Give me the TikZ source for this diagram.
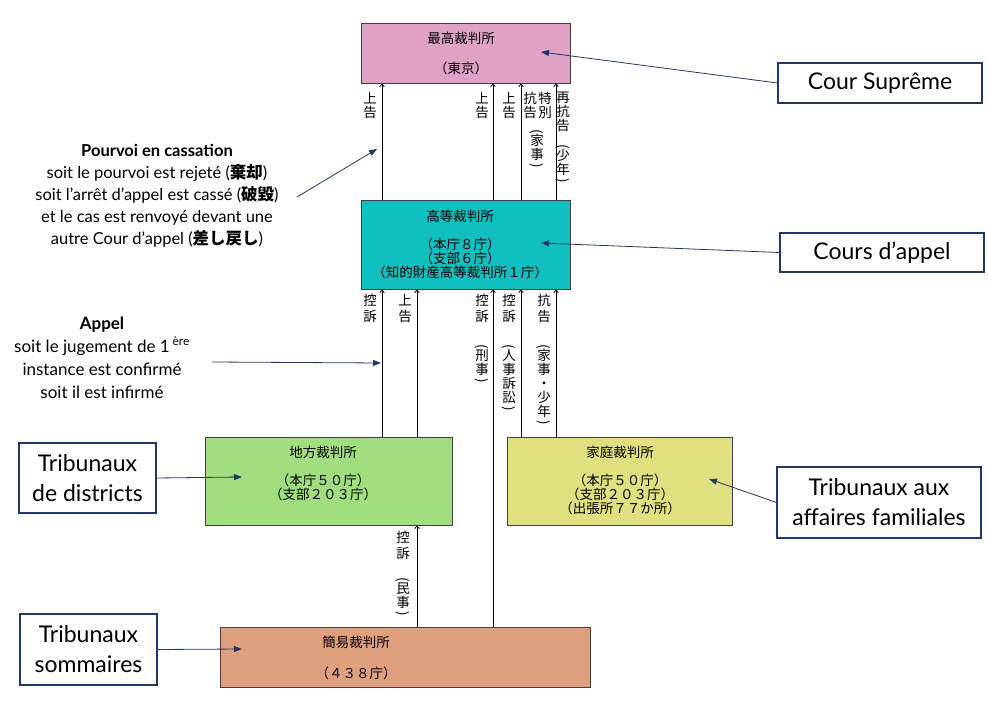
\documentclass[tikz,border=0pt]{standalone}
\usepackage{fontspec}
\usepackage{graphicx}
\setmainfont{Lato}
\newfontfamily\jp{Noto Sans CJK JP}
\usetikzlibrary{arrows.meta}
\definecolor{supc}{RGB}{222,162,196}
\definecolor{highc}{RGB}{16,191,191}
\definecolor{distc}{RGB}{160,222,128}
\definecolor{famc}{RGB}{224,224,128}
\definecolor{sumc}{RGB}{224,160,128}
\definecolor{edgec}{RGB}{64,64,64}
\definecolor{navy}{RGB}{32,56,100}
\newcommand\vpo{\rotatebox[origin=c]{-90}{(}}
\newcommand\vpc{\rotatebox[origin=c]{-90}{)}}
\begin{document}
\begin{tikzpicture}[x=1pt,y=-1pt,
 court/.style={draw=edgec, line width=0.9pt, inner sep=0pt},
 jtext/.style={font=\jp\fontsize{13.5}{14}\selectfont, align=center, inner sep=0pt},
 vl/.style={font=\jp\fontsize{13.5}{14}\selectfont, align=center, inner sep=0pt, anchor=north},
 vlm/.style={font=\jp\fontsize{13.5}{16}\selectfont, align=center, inner sep=0pt, anchor=north},
 conn/.style={draw=black, line width=0.8pt, -{Straight Barb[length=2.5pt,width=4.5pt]}},
 note/.style={draw=navy, line width=1.1pt, fill=white, align=center, inner sep=0pt, font=\fontsize{23}{30}\selectfont},
 pointer/.style={draw=navy, line width=0.8pt, -{Triangle[length=8pt,width=6pt]}},
 ftext/.style={align=center, inner sep=0pt},
]
\useasboundingbox (0,0) rectangle (988,719);

% court boxes
\node[court, fill=supc, minimum width=209pt, minimum height=60pt] (sup) at (465.5,53) {};
\node[court, fill=highc, minimum width=209pt, minimum height=89pt] (high) at (465.5,244.5) {};
\node[court, fill=distc, minimum width=247pt, minimum height=88pt] (dist) at (328.5,481) {};
\node[court, fill=famc, minimum width=225pt, minimum height=88pt] (fam) at (619.5,481) {};
\node[court, fill=sumc, minimum width=370pt, minimum height=60pt] (summ) at (405,657) {};

% texts in the court boxes
\node[jtext] (supT) at (461,53) {最高裁判所\\[16pt]（東京）};
\node[jtext] (highT) at (460,244) {高等裁判所\\[14pt]（本庁８庁）\\（支部６庁）\\（知的財産高等裁判所１庁）};
\node[jtext] (distT) at (323,473) {地方裁判所\\[14pt]（本庁５０庁）\\（支部２０３庁）};
\node[jtext] (famT) at (620,480) {家庭裁判所\\[14pt]（本庁５０庁）\\（支部２０３庁）\\（出張所７７か所）};
\node[jtext] (summT) at (356,657.5) {簡易裁判所\\[17pt]（４３８庁）};

% connectors
\foreach \x in {382,493,521,556}
  \draw[conn] (\x,0 |- high.north) -- (\x,0 |- sup.south);
\foreach \x in {382,417}
  \draw[conn] (\x,0 |- dist.north) -- (\x,0 |- high.south);
\draw[conn] (493,0 |- summ.north) -- (493,0 |- high.south);
\foreach \x in {521,556}
  \draw[conn] (\x,0 |- fam.north) -- (\x,0 |- high.south);
\draw[conn] (417,0 |- summ.north) -- (417,0 |- dist.south);

% vertical labels, top
\node[vl] (t1) at (370,92) {上\\告};
\node[vl] (t2) at (482,92) {上\\告};
\node[vl] (t3) at (509,92) {上\\告};
\node[vl] (t4) at (530,92) {抗\\告};
\node[vl] (t5) at (545,92) {特\\別};
\node[vl] (t6) at (537,129) {\vpo\\[-4pt]家\\事\\[-4pt]\vpc};
\node[vl] (t7) at (563,92) {再\\抗\\告};
\node[vl] (t8) at (563,144) {\vpo\\[-4pt]少\\年\\[-4pt]\vpc};

% vertical labels, middle
\node[vlm] (m1) at (370,294) {控\\訴};
\node[vlm] (m2) at (405,294) {上\\告};
\node[vlm] (m3) at (482,294) {控\\訴};
\node[vl] (m4) at (482,344) {\vpo\\[-4pt]刑\\事\\[-4pt]\vpc};
\node[vlm] (m5) at (509,294) {控\\訴};
\node[vl] (m6) at (509,344) {\vpo\\[-4pt]人\\事\\訴\\訟\\[-4pt]\vpc};
\node[vlm] (m7) at (544,294) {抗\\告};
\node[vl] (m8) at (544,344) {\vpo\\[-4pt]家\\事\\・\\少\\年\\[-4pt]\vpc};

% vertical labels, bottom
\node[vlm] (b1) at (403,531) {控\\訴};
\node[vl] (b2) at (403,577) {\vpo\\[-4pt]民\\事\\[-4pt]\vpc};

% French annotations
\node[ftext, font=\fontsize{16.5}{22}\selectfont] (pourvoi) at (157,196) {{\bfseries Pourvoi en cassation}\\
soit le pourvoi est rejeté ({\jp\bfseries 棄却})\\
soit l’arrêt d’appel est cassé ({\jp\bfseries 破毀})\\
et le cas est renvoyé devant une\\
autre Cour d’appel ({\jp\bfseries 差し戻し})};
\node[ftext, font=\fontsize{17}{23}\selectfont] (appel) at (102,357.5) {{\bfseries Appel}\\
soit le jugement de 1\,\textsuperscript{ère}\\
instance est confirmé\\
soit il est infirmé};

\coordinate (pS) at (297,197);
\coordinate (pE) at (377,149);
\coordinate (aS) at (212,362);
\coordinate (aE) at (381,363);
\draw[pointer] (pS) -- (pE);
\draw[pointer] (aS) -- (aE);

\node[note, minimum width=204pt, minimum height=40pt] (nSup) at (880,83) {Cour Suprême};
\node[note, minimum width=204pt, minimum height=39pt] (nHigh) at (882,252.5) {Cours d’appel};
\node[note, minimum width=204pt, minimum height=71pt] (nFam) at (879,502.5) {Tribunaux aux\\affaires familiales};
\node[note, minimum width=137pt, minimum height=70pt] (nDist) at (87.5,478) {Tribunaux\\de districts};
\node[note, minimum width=137pt, minimum height=71pt] (nSum) at (88.5,649.5) {Tribunaux\\sommaires};

\coordinate (supP) at (541,52);
\coordinate (highP) at (541,243);
\coordinate (famP) at (709,479);
\coordinate (distP) at (242,477);
\coordinate (sumP) at (242,649);
\draw[pointer] (nSup.west) -- (supP);
\draw[pointer] (nHigh.west) -- (highP);
\draw[pointer] (nFam.west) -- (famP);
\draw[pointer] (nDist.east) -- (distP);
\draw[pointer] (nSum.east) -- (sumP);
\end{tikzpicture}
\end{document}
